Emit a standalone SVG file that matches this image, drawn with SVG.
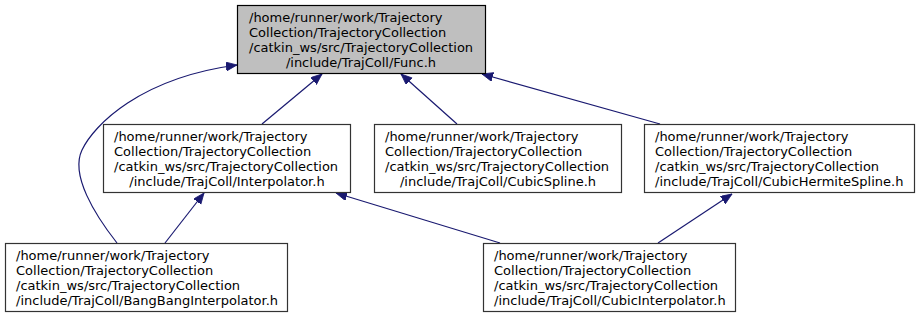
<svg xmlns="http://www.w3.org/2000/svg" width="921" height="319" viewBox="0 0 921 319">
  <style>
    .box { fill: #ffffff; stroke: #333333; stroke-width: 1.2; }
    .box.root { fill: #bfbfbf; stroke: #000000; }
    text { font-family: "DejaVu Sans", "Liberation Sans", sans-serif; font-size: 13px; fill: #000000; }
    .mid { text-anchor: middle; }
    .edge { fill: none; stroke: #191970; stroke-width: 1.2; marker-end: url(#arrow); }
  </style>
  <defs>
    <marker id="arrow" markerUnits="userSpaceOnUse" markerWidth="12" markerHeight="10" refX="11" refY="4.5" orient="auto">
      <path d="M0,0 L11,4.5 L0,9 z" fill="#191970" stroke="#191970" stroke-width="0.8"/>
    </marker>
  </defs>

  <!-- include dependency edges -->
  <g id="edges">
    <path class="edge" d="M117,243 C95,215 70,175 82,150 C94,125 140,78 237,65"/>
    <path class="edge" d="M262,124 L322,74"/>
    <path class="edge" d="M457,124 L401,74"/>
    <path class="edge" d="M660,124 L482,74"/>
    <path class="edge" d="M165,243 L204,193"/>
    <path class="edge" d="M500,243 L336,193"/>
    <path class="edge" d="M658,243 L732,194"/>
  </g>

  <g id="node-func">
    <rect class="box root" x="237.5" y="5.5" width="248" height="68"/>
    <text x="249" y="22">/home/runner/work/Trajectory</text>
    <text x="249" y="37">Collection/TrajectoryCollection</text>
    <text x="249" y="52">/catkin_ws/src/TrajectoryCollection</text>
    <text class="mid" x="361" y="67">/include/TrajColl/Func.h</text>
  </g>

  <g id="node-interpolator">
    <rect class="box" x="103.5" y="124.5" width="247" height="68"/>
    <text x="114" y="141">/home/runner/work/Trajectory</text>
    <text x="114" y="156">Collection/TrajectoryCollection</text>
    <text x="114" y="171">/catkin_ws/src/TrajectoryCollection</text>
    <text class="mid" x="227" y="186">/include/TrajColl/Interpolator.h</text>
  </g>

  <g id="node-cubicspline">
    <rect class="box" x="374.5" y="124.5" width="247" height="68"/>
    <text x="385" y="141">/home/runner/work/Trajectory</text>
    <text x="385" y="156">Collection/TrajectoryCollection</text>
    <text x="385" y="171">/catkin_ws/src/TrajectoryCollection</text>
    <text class="mid" x="498" y="186">/include/TrajColl/CubicSpline.h</text>
  </g>

  <g id="node-cubichermitespline">
    <rect class="box" x="644.5" y="124.5" width="270" height="68"/>
    <text x="655" y="141">/home/runner/work/Trajectory</text>
    <text x="655" y="156">Collection/TrajectoryCollection</text>
    <text x="655" y="171">/catkin_ws/src/TrajectoryCollection</text>
    <text x="655" y="186">/include/TrajColl/CubicHermiteSpline.h</text>
  </g>

  <g id="node-bangbanginterpolator">
    <rect class="box" x="5.5" y="243.5" width="282" height="68"/>
    <text x="16" y="260">/home/runner/work/Trajectory</text>
    <text x="16" y="275">Collection/TrajectoryCollection</text>
    <text x="16" y="290">/catkin_ws/src/TrajectoryCollection</text>
    <text x="16" y="305">/include/TrajColl/BangBangInterpolator.h</text>
  </g>

  <g id="node-cubicinterpolator">
    <rect class="box" x="483.5" y="243.5" width="252" height="68"/>
    <text x="494" y="260">/home/runner/work/Trajectory</text>
    <text x="494" y="275">Collection/TrajectoryCollection</text>
    <text x="494" y="290">/catkin_ws/src/TrajectoryCollection</text>
    <text x="494" y="305">/include/TrajColl/CubicInterpolator.h</text>
  </g>
</svg>
